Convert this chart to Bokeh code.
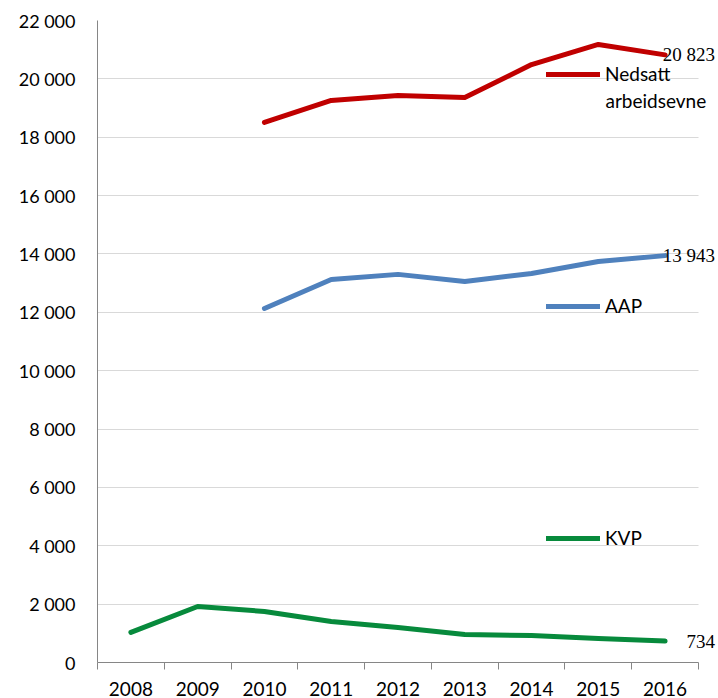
from bokeh.plotting import figure
from bokeh.models import Range1d, FixedTicker, Legend, LegendItem, LabelSet, Label, ColumnDataSource, BoxAnnotation
from bokeh.embed import file_html
from bokeh.resources import INLINE

years = ["2008", "2009", "2010", "2011", "2012", "2013", "2014", "2015", "2016"]
nedsatt = [18505, 19260, 19430, 19360, 20490, 21180, 20823]   # 2010-2016
aap = [12130, 13125, 13300, 13055, 13330, 13740, 13943]        # 2010-2016
kvp = [1030, 1920, 1750, 1405, 1200, 960, 925, 820, 734]       # 2008-2016
y_ticks = list(range(0, 22001, 2000))

RED = "#C00000"
BLUE = "#4F81BD"
GREEN = "#078A3C"
FONT = "Lato"

n = len(years)
xc = [i + 0.5 for i in range(n)]

W, H = 718, 698
LEFT, RIGHT, TOP, BOTTOM = 97, 0, 20, 36
plot_w = 601  # pixel width of the category area
frame_w = W - LEFT - RIGHT
x_end = n * frame_w / plot_w

p = figure(width=W, height=H, output_backend="svg", toolbar_location=None,
           x_range=Range1d(0, x_end), y_range=Range1d(0, 22000),
           min_border_left=LEFT, min_border_right=RIGHT, min_border_top=TOP, min_border_bottom=BOTTOM)
p.outline_line_color = None
p.background_fill_color = "white"

# axes
p.xaxis.ticker = FixedTicker(ticks=xc, minor_ticks=list(range(n + 1)))
p.xaxis.bounds = (0, n)
p.xaxis.major_label_overrides = {x: y for x, y in zip(xc, years)}
p.xaxis.major_tick_line_color = None
p.xaxis.minor_tick_line_color = "#868686"
p.xaxis.minor_tick_out = 7
p.xaxis.minor_tick_in = 0
p.xaxis.axis_line_color = "#868686"
p.xaxis.major_label_text_font = FONT
p.xaxis.major_label_text_font_size = "19px"
p.xaxis.major_label_text_color = "#000000"
p.xaxis.major_label_standoff = 12

p.yaxis.ticker = FixedTicker(ticks=y_ticks, minor_ticks=[])
p.yaxis.major_label_overrides = {v: f"{v:,}".replace(",", " ") for v in y_ticks}
p.yaxis.major_tick_line_color = None
p.yaxis.minor_tick_line_color = None
p.yaxis.axis_line_color = "#868686"
p.yaxis.major_label_text_font = FONT
p.yaxis.major_label_text_font_size = "18px"
p.yaxis.major_label_text_color = "#000000"
p.yaxis.major_label_standoff = 16

p.xgrid.grid_line_color = None
p.ygrid.ticker = FixedTicker(ticks=y_ticks[1:])
p.ygrid.grid_line_color = "#D9D9D9"
p.ygrid.grid_line_width = 1

# blank out the gridlines to the right of the last category (label margin)
p.add_layout(BoxAnnotation(left=n, fill_color="white", fill_alpha=1, line_color=None, level="underlay"))

r_red = p.line(xc[2:], nedsatt, line_color=RED, line_width=5, line_cap="round", line_join="round")
r_blue = p.line(xc[2:], aap, line_color=BLUE, line_width=5, line_cap="round", line_join="round")
r_green = p.line(xc, kvp, line_color=GREEN, line_width=5, line_cap="round", line_join="round")

# end-of-line data labels
last = ColumnDataSource(dict(
    x=[xc[-1]] * 3,
    y=[nedsatt[-1], aap[-1], kvp[-1]],
    t=[f"{v:,}".replace(",", " ") for v in (nedsatt[-1], aap[-1], kvp[-1])],
))
p.add_layout(LabelSet(x="x", y="y", text="t", source=last, x_offset=50,
                      text_align="right", text_baseline="middle",
                      text_font=FONT, text_font_size="19px", text_color="#000000"))

# legends placed inside the plot
def add_legend(label, renderer, loc):
    lg = Legend(items=[LegendItem(label=label, renderers=[renderer])], location=loc,
                background_fill_alpha=0, border_line_color=None, margin=0, padding=0,
                glyph_width=54, glyph_height=20, label_standoff=5, spacing=0,
                label_text_font=FONT, label_text_font_size="19px", label_text_color="#000000")
    p.add_layout(lg, "center")

add_legend("Nedsatt", r_red, (449, 577))
add_legend("AAP", r_blue, (449, 345))
add_legend("KVP", r_green, (449, 113))
p.add_layout(Label(x=508, y=562, x_units="screen", y_units="screen", text="arbeidsevne",
                   text_baseline="middle", text_align="left",
                   text_font=FONT, text_font_size="19px", text_color="#000000"))

open("out.html", "w").write(file_html(p, INLINE))
